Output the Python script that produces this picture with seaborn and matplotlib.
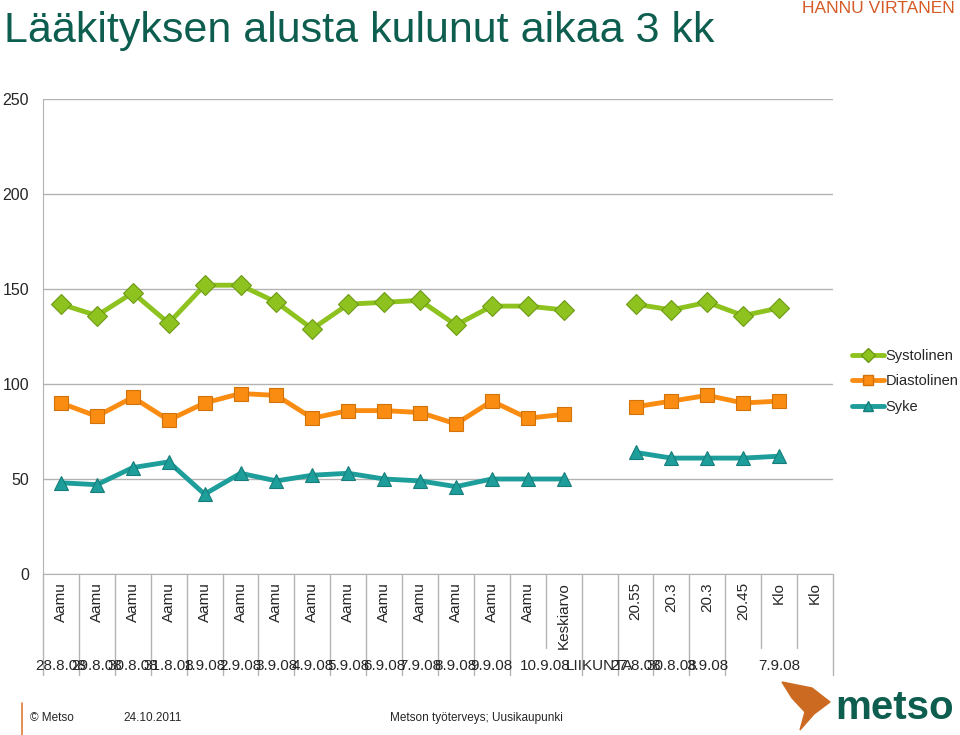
import seaborn as sns
import matplotlib.pyplot as plt
import pandas as pd
import numpy as np
from matplotlib.lines import Line2D
from matplotlib.patches import Polygon

# -------------------------------
# Data
# -------------------------------
sub_labels = ["Aamu"] * 14 + ["Keskiarvo", "", "20.55", "20.3", "20.3", "20.45", "Klo", "Klo"]
group_labels = ["28.8.08", "29.8.08", "30.8.08", "31.8.08", "1.9.08", "2.9.08", "3.9.08",
                "4.9.08", "5.9.08", "6.9.08", "7.9.08", "8.9.08", "9.9.08", "10.9.08",
                "LIIKUNTA", "27.8.08", "30.8.08", "3.9.08", "7.9.08"]
group_sizes = [1] * 13 + [2, 1, 1, 1, 1, 3]

systolinen = [142, 136, 148, 132, 152, 152, 143, 129, 142, 143, 144, 131, 141, 141, 139,
              None, 142, 139, 143, 136, 140, None]
diastolinen = [90, 83, 93, 81, 90, 95, 94, 82, 86, 86, 85, 79, 91, 82, 84,
               None, 88, 91, 94, 90, 91, None]
syke = [48, 47, 56, 59, 42, 53, 49, 52, 53, 50, 49, 46, 50, 50, 50,
        None, 64, 61, 61, 61, 62, None]

series = {"Systolinen": systolinen, "Diastolinen": diastolinen, "Syke": syke}
colors = {"Systolinen": "#8DC21F", "Diastolinen": "#FA8C12", "Syke": "#1E9E9B"}
edges = {"Systolinen": "#6F9A16", "Diastolinen": "#D2720A", "Syke": "#167D7A"}
markers = {"Systolinen": "D", "Diastolinen": "s", "Syke": "^"}

rows = []
for name, vals in series.items():
    seg = 0
    for i, v in enumerate(vals):
        if v is None:
            seg += 1
            continue
        rows.append({"pos": i, "value": v, "series": name, "segment": seg})
df = pd.DataFrame(rows)

# -------------------------------
# Plot
# -------------------------------
sns.set_style("white")
plt.rcParams["font.family"] = ["Liberation Sans", "DejaVu Sans"]

fig = plt.figure(figsize=(9.6, 7.35), dpi=100)
ax = fig.add_axes([43 / 960, 1 - 574 / 735, 790 / 960, 475 / 735])

sns.lineplot(data=df, x="pos", y="value", hue="series", style="series",
             units="segment", estimator=None, palette=colors, markers=markers,
             dashes=False, linewidth=3.5, markersize=10, legend=False, ax=ax)

# darker marker edges
for line in ax.lines:
    c = str(line.get_color()).lower()
    for name, col in colors.items():
        if col.lower() == c:
            line.set_markeredgecolor(edges[name])
            line.set_markeredgewidth(0.8)

n = len(sub_labels)
ax.set_xlim(-0.5, n - 0.5)
ax.set_ylim(0, 250)
ax.set_yticks([0, 50, 100, 150, 200, 250])
ax.set_xticks([])
ax.set_xlabel("")
ax.set_ylabel("")
ax.grid(axis="y", color="#B3B3B3", linewidth=1)
ax.tick_params(axis="y", labelsize=11.5, length=5, color="#B3B3B3", pad=5)
for s in ["top", "right"]:
    ax.spines[s].set_visible(False)
ax.spines["left"].set_color("#B3B3B3")
ax.spines["bottom"].set_color("#B3B3B3")

# category axis (two levels)
trans = ax.get_xaxis_transform()
for i, lab in enumerate(sub_labels):
    ax.text(i, -0.017, lab, rotation=90, ha="center", va="top", fontsize=11,
            transform=trans)

bounds = np.cumsum([0] + group_sizes)
full = set(bounds.tolist())
for b in range(n + 1):
    low = -0.213 if b in full else -0.156
    ax.plot([b - 0.5, b - 0.5], [0, low], color="#B3B3B3", linewidth=1,
            transform=trans, clip_on=False)
for g, lab in enumerate(group_labels):
    center = (bounds[g] + bounds[g + 1] - 1) / 2
    ax.text(center, -0.193, lab, ha="center", va="center", fontsize=11,
            transform=trans)

# legend
handles = [Line2D([], [], color=colors[k], marker=markers[k], markersize=7,
                  markeredgecolor=edges[k], linewidth=3.5) for k in series]
fig.legend(handles, list(series.keys()), loc="upper left",
           bbox_to_anchor=(852 / 960, 1 - 349 / 735), frameon=False,
           fontsize=10.5, handlelength=2.2, handletextpad=0.1,
           labelspacing=0.78, borderpad=0, borderaxespad=0)

# titles and footer
fig.text(4 / 960, 1 - 31 / 735, "Lääkityksen alusta kulunut aikaa 3 kk",
         fontsize=31, color="#0E5E50", va="center", ha="left")
fig.text(955 / 960, 1 - 1 / 735, "HANNU VIRTANEN", fontsize=12.5,
         color="#D55A26", va="top", ha="right")

fig.add_artist(Line2D([22 / 960, 22 / 960], [0, 1 - 703 / 735], color="#E07B39",
                      linewidth=1.2))
fig.text(30 / 960, 1 - 718 / 735, "© Metso", fontsize=8.5, va="center")
fig.text(123 / 960, 1 - 718 / 735, "24.10.2011", fontsize=8.5, va="center")
fig.text(390 / 960, 1 - 718 / 735, "Metson työterveys; Uusikaupunki", fontsize=8.5,
         va="center")

# logo
pts = [(782, 682), (812, 688), (830, 702), (814, 714), (800, 730), (805, 712), (792, 698)]
fig.add_artist(Polygon([(x / 960, 1 - y / 735) for x, y in pts], closed=True,
                       color="#CD6A22", transform=fig.transFigure))
fig.text(835 / 960, 1 - 708 / 735, "metso", fontsize=29, fontweight="bold",
         color="#0E5E50", va="center", ha="left")

fig.savefig("out.png", dpi=100)
